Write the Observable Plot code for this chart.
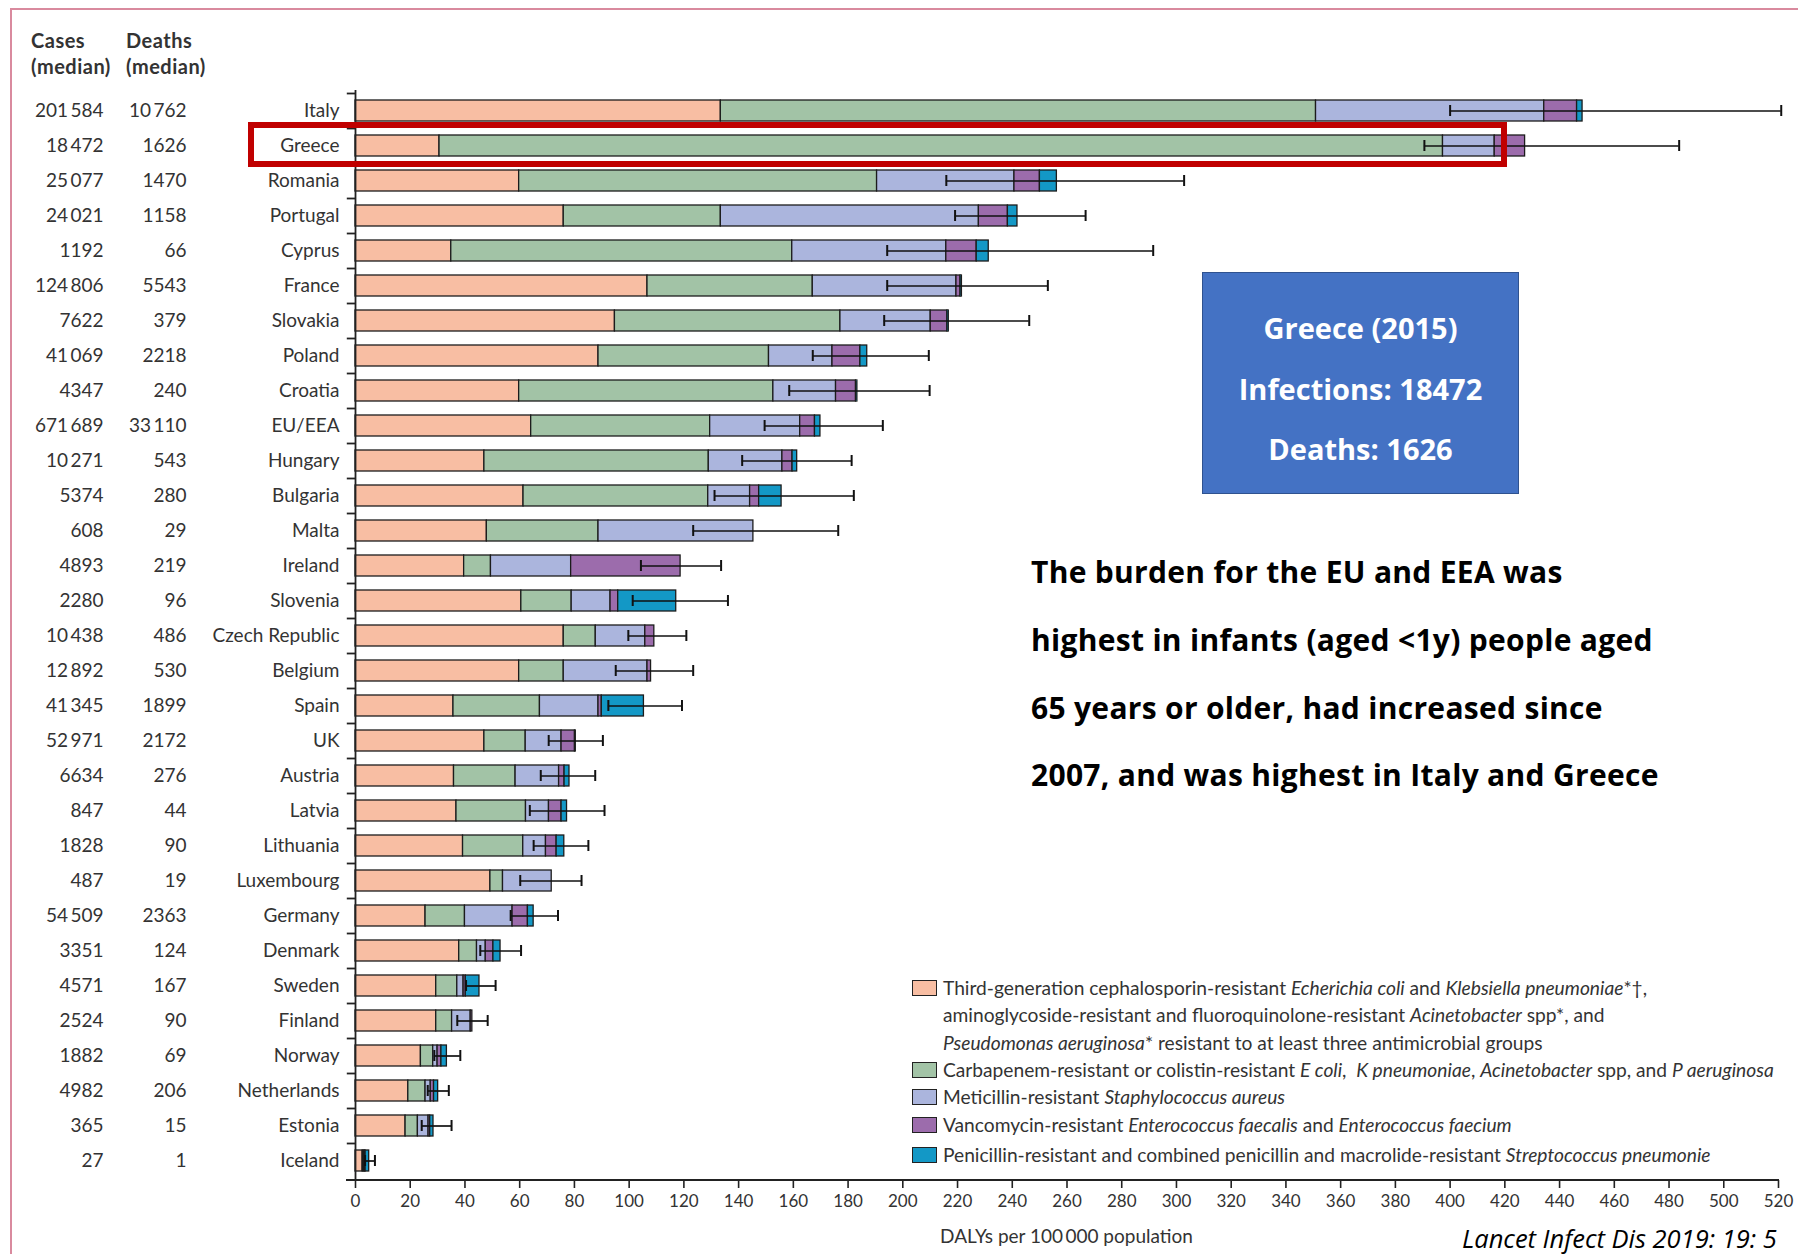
<!DOCTYPE html>
<html><head><meta charset="utf-8">
<script src="https://cdn.jsdelivr.net/npm/d3@7"></script>
<script src="https://cdn.jsdelivr.net/npm/@observablehq/plot@0.6"></script>
<style>
html,body{margin:0;padding:0;background:#fff;overflow:hidden;}
#wrap{position:relative;width:1798px;height:1254px;font-family:Lato,"Open Sans",sans-serif;color:#333;overflow:hidden;}
#wrap svg{position:absolute;left:0;top:0;}
.ov{position:absolute;white-space:nowrap;}
.hdr{font-weight:bold;font-size:20px;line-height:26px;color:#333;letter-spacing:0.5px;}
.leg{font-size:19.2px;color:#333;line-height:22px;}
.sw{position:absolute;width:25px;height:16px;border:1.5px solid #222;box-sizing:border-box;}
.note{font-family:"Open Sans",Lato,sans-serif;font-weight:bold;font-size:30px;letter-spacing:0.3px;color:#000;line-height:38px;}
.box{background:#4472C4;border:1.5px solid #2F528F;box-sizing:border-box;}
.boxt{font-family:"Open Sans",Lato,sans-serif;color:#fff;font-weight:bold;font-size:29px;text-align:center;line-height:36px;}
</style></head><body><div id="wrap"></div>
<script>
const countries = ["Italy","Greece","Romania","Portugal","Cyprus","France","Slovakia","Poland","Croatia","EU/EEA","Hungary","Bulgaria","Malta","Ireland","Slovenia","Czech Republic","Belgium","Spain","UK","Austria","Latvia","Lithuania","Luxembourg","Germany","Denmark","Sweden","Finland","Norway","Netherlands","Estonia","Iceland"];
const cases  = [201584,18472,25077,24021,1192,124806,7622,41069,4347,671689,10271,5374,608,4893,2280,10438,12892,41345,52971,6634,847,1828,487,54509,3351,4571,2524,1882,4982,365,27];
const deaths = [10762,1626,1470,1158,66,5543,379,2218,240,33110,543,280,29,219,96,486,530,1899,2172,276,44,90,19,2363,124,167,90,69,206,15,1];
// DALYs per 100 000 by pathogen group (segment widths)
const thirdGen   = [133.5,30.7,59.8,76.1,35,106.7,94.8,88.8,59.8,64.2,47.1,61.4,48,39.7,60.6,76.1,59.8,35.8,47.1,36,36.9,39.3,49.3,25.6,37.9,29.5,29.5,23.9,19.3,18.3,2.6];
const carbapenem = [217.5,366.7,130.8,57.4,124.6,60.4,82.4,62.3,92.9,65.4,82,67.5,40.8,9.8,18.4,11.7,16.3,31.6,15.1,22.5,25.4,22,4.6,14.4,6.5,7.7,5.8,4.5,6.3,4.5,0.4];
const mrsa       = [83.4,18.9,50.2,94.3,56.3,52.5,33,23.2,22.9,32.9,26.9,15.3,56.6,29.3,14.2,18.1,30.6,21.4,13.1,15.9,8.4,8.3,17.8,17.4,3.2,2.3,6.8,1.6,1.9,3.9,0.4];
const vre        = [12,11.1,9.3,10.6,11.1,1.5,6.1,10.2,7.3,5.4,3.7,3.3,0,40,2.8,3.3,1.3,1.2,4.9,2,4.6,3.9,0,5.6,2.8,0.8,0.6,1.4,1.2,0.6,0.3];
const penicillin = [2,0,6.2,3.5,4.4,0.5,0.5,2.5,0.5,2,1.7,8.2,0,0,21.2,0,0,15.4,0.3,1.8,2,2.8,0,2.1,2.6,5,0,2,1.5,1.2,1.3];
const ciLow  = [400,390.6,215.9,219.1,194.3,194.3,193.2,167.1,158.5,149.5,141.3,131.2,123.4,104.3,101.3,99.7,95.1,92.4,70.6,67.7,63.7,65.1,60.2,56.7,45.6,40.4,37.2,28.8,26.4,24.2,3.5];
const ciHigh = [521,483.7,302.8,266.8,291.5,253,246.2,209.5,209.8,192.7,181.3,182.1,176.4,133.6,136.1,120.9,123.4,119.3,90.4,87.6,91,85.1,82.6,74,60.5,51.2,48.3,38.3,34.1,35.1,7.1];
const seriesNames = ["Third-generation cephalosporin-resistant","Carbapenem-resistant or colistin-resistant","Meticillin-resistant S aureus","Vancomycin-resistant Enterococcus","Penicillin-resistant S pneumoniae"];
const seriesColors = ["#f8bea3","#a2c3a6","#abb5dd","#9c6cac","#1398c6"];
const xTicks = [0,20,40,60,80,100,120,140,160,180,200,220,240,260,280,300,320,340,360,380,400,420,440,460,480,500,520];

const seriesValues = [thirdGen, carbapenem, mrsa, vre, penicillin];
const long = [];
countries.forEach((c, i) => seriesValues.forEach((arr, s) => long.push({country: c, series: seriesNames[s], value: arr[i]})));
const err = countries.map((c, i) => ({country: c, low: ciLow[i], high: ciHigh[i]}));
const fmt = n => n >= 10000 ? d3.format(",")(n).replace(/,/g, "\u2009") : String(n);
const rows = countries.map((c, i) => ({country: c, cases: fmt(cases[i]), deaths: fmt(deaths[i])}));

const chart = Plot.plot({
  width: 1798, height: 1254,
  marginLeft: 355, marginRight: 20, marginTop: 90, marginBottom: 74,
  style: {fontFamily: "Lato, 'Open Sans', sans-serif", color: "#333", background: "transparent", overflow: "visible"},
  x: {domain: [0, 520], label: null},
  y: {domain: countries, paddingInner: 0.4, paddingOuter: 0.2, label: null},
  color: {domain: seriesNames, range: seriesColors},
  marks: [
    Plot.barX(long, {x: "value", y: "country", fill: "series", stroke: "#1c1c1c", strokeWidth: 1.3}),
    Plot.ruleY(err, {y: "country", x1: "low", x2: "high", stroke: "#111", strokeWidth: 1.7}),
    Plot.tickX(err, {x: "low", y: "country", insetTop: 5, insetBottom: 5, stroke: "#111", strokeWidth: 2}),
    Plot.tickX(err, {x: "high", y: "country", insetTop: 5, insetBottom: 5, stroke: "#111", strokeWidth: 2}),
    Plot.ruleX([0], {stroke: "#222", strokeWidth: 1.8}),
    Plot.ruleY(countries, {y: d => d, x1: () => -3, x2: () => 0, dy: -17.5, stroke: "#222", strokeWidth: 1.8}),
    Plot.axisY({tickSize: 0, tickPadding: 16, fontSize: 19, fill: "#333", label: null}),
    Plot.axisX({ticks: xTicks, tickSize: 8, tickPadding: 6, fontSize: 17, fill: "#333", stroke: "#222", strokeWidth: 1.6, label: null}),
    Plot.text(rows, {y: "country", text: "cases", frameAnchor: "left", dx: -252, textAnchor: "end", fontSize: 19, fill: "#333"}),
    Plot.text(rows, {y: "country", text: "deaths", frameAnchor: "left", dx: -169, textAnchor: "end", fontSize: 19, fill: "#333"})
  ]
});

const wrap = document.getElementById("wrap");
wrap.appendChild(chart);
const xs = chart.scale("x"), ys = chart.scale("y");
const svg = d3.select(chart.tagName.toLowerCase() === "svg" ? chart : chart.querySelector("svg"));
const bottom = 1254 - 74;
svg.append("line").attr("x1", xs.apply(0) - 9).attr("x2", xs.apply(520) + 1).attr("y1", bottom).attr("y2", bottom).attr("stroke", "#222").attr("stroke-width", 1.8);
svg.append("text").attr("x", (xs.apply(0) + xs.apply(520)) / 2).attr("y", bottom + 63).attr("text-anchor", "middle").attr("font-size", 19).attr("fill", "#333").text("DALYs per 100\u2009000 population");

function add(html, cls, style) {
  const d = document.createElement("div");
  d.className = "ov " + (cls || "");
  d.innerHTML = html;
  Object.assign(d.style, style);
  wrap.appendChild(d);
  return d;
}
// page frame
add("", "", {left: "10px", top: "8px", width: "1800px", height: "1300px", borderTop: "2.5px solid #d98a9e", borderLeft: "2.5px solid #d98a9e"});
// headers
add("Cases<br>(median)", "hdr", {left: "31px", top: "27px"});
add("Deaths<br>(median)", "hdr", {left: "126px", top: "27px"});
// highlight Greece
const gy = ys.apply("Greece") + ys.bandwidth / 2;
add("", "", {left: "248px", top: (gy - 24) + "px", width: (xs.apply(421) - 248) + "px", height: "45px", border: "6px solid #c00000", boxSizing: "border-box"});
// blue box
add("", "box", {left: "1202px", top: "272px", width: "317px", height: "222px"});
add("Greece (2015)", "boxt", {left: "1202px", width: "317px", top: "310px"});
add("Infections: 18472", "boxt", {left: "1202px", width: "317px", top: "371px"});
add("Deaths: 1626", "boxt", {left: "1202px", width: "317px", top: "431px"});
// note
const noteLines = ["The burden for the EU and EEA was", "highest in infants (aged &lt;1y) people aged", "65 years or older, had increased since", "2007, and was highest in Italy and Greece"];
[553, 621, 689, 756].forEach((t, i) => add(noteLines[i], "note", {left: "1031px", top: t + "px"}));
// legend
const legLines = [
  [0, 977, "Third-generation cephalosporin-resistant <i>Echerichia coli</i> and <i>Klebsiella pneumoniae</i>*†,"],
  [-1, 1004, "aminoglycoside-resistant and fluoroquinolone-resistant <i>Acinetobacter</i> spp*, and"],
  [-1, 1032, "<i>Pseudomonas aeruginosa</i>* resistant to at least three antimicrobial groups"],
  [1, 1059, "Carbapenem-resistant or colistin-resistant <i>E coli</i>,&nbsp; <i>K pneumoniae</i>, <i>Acinetobacter</i> spp, and <i>P aeruginosa</i>"],
  [2, 1086, "Meticillin-resistant <i>Staphylococcus aureus</i>"],
  [3, 1114, "Vancomycin-resistant <i>Enterococcus faecalis</i> and <i>Enterococcus faecium</i>"],
  [4, 1144, "Penicillin-resistant and combined penicillin and macrolide-resistant <i>Streptococcus pneumonie</i>"]
];
legLines.forEach(([s, t, h]) => {
  add(h, "leg", {left: "943px", top: t + "px"});
  if (s >= 0) add("", "sw", {left: "912px", top: (t + 3) + "px", background: seriesColors[s]});
});
// citation
add("<i>Lancet Infect Dis 2019: 19: 5</i>", "", {left: "1462px", top: "1224px", fontSize: "25.5px", lineHeight: "28px", color: "#000", fontFamily: "'Open Sans', Lato, sans-serif"});
</script></body></html>
